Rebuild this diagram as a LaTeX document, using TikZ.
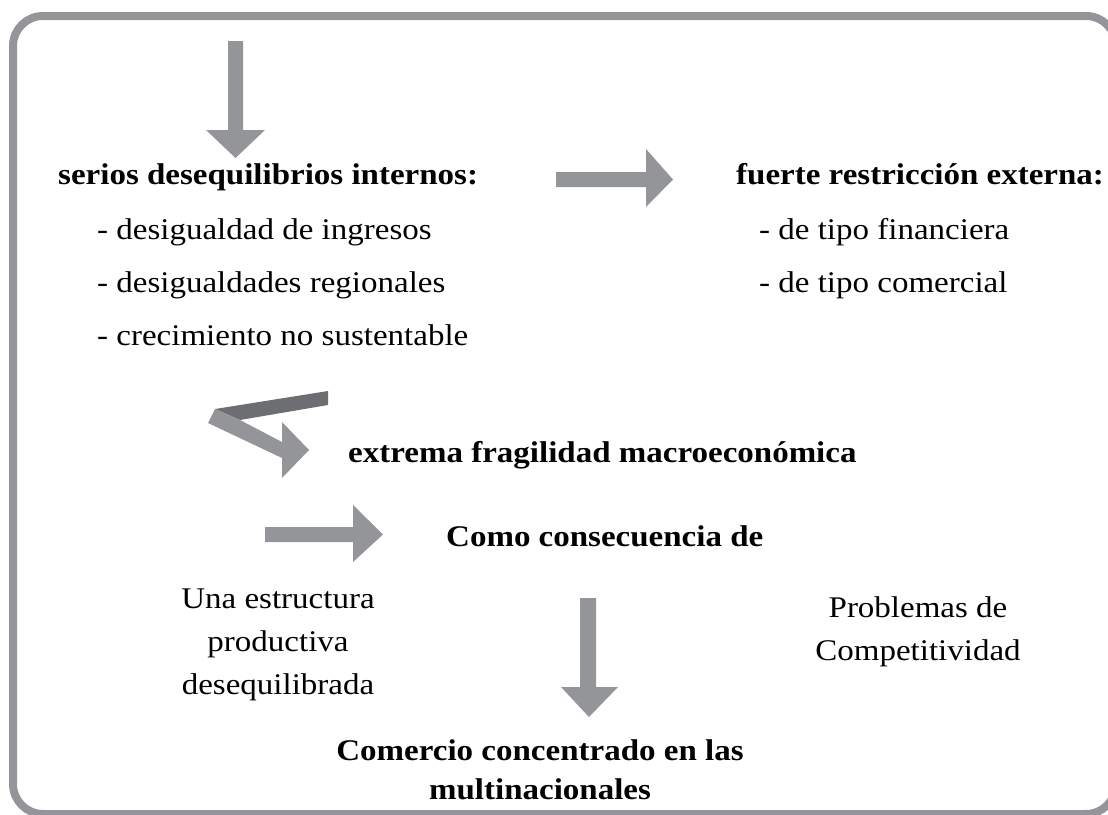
\documentclass[tikz,border=0pt]{standalone}
\usepackage{fontspec}
\setmainfont[FakeStretch=1.1]{Liberation Serif}
\usepackage{tikz}

\definecolor{grisflecha}{RGB}{147,149,152}
\definecolor{grisoscuro}{RGB}{109,110,113}

\begin{document}
\begin{tikzpicture}[x=1pt,y=-1pt,
	flecha/.style={fill=grisflecha,draw=none},
	titulo/.style={font=\bfseries\fontsize{30}{36}\selectfont,inner sep=0pt,anchor=base west},
	item/.style={font=\fontsize{30}{36}\selectfont,inner sep=0pt,anchor=base west},
	bloque/.style={font=\fontsize{30}{43}\selectfont,align=center,inner sep=0pt}]
	\useasboundingbox (0,0) rectangle (1108,814);
	\clip (0,0) rectangle (1108,814);

	% marco
	\draw[grisflecha,line width=8pt,rounded corners=30pt] (13,16) rectangle (1116,814);

	% textos
	\node[titulo] (internos) at (58,184) {serios desequilibrios internos:};
	\node[item] (ingresos) at (97,239) {- desigualdad de ingresos};
	\node[item] (regionales) at (97,292) {- desigualdades regionales};
	\node[item] (crecimiento) at (97,345) {- crecimiento no sustentable};

	\node[titulo] (externa) at (736,184) {fuerte restricción externa:};
	\node[item] (financiera) at (759,239) {- de tipo financiera};
	\node[item] (comercial) at (759,292) {- de tipo comercial};

	\node[titulo] (fragilidad) at (348,462) {extrema fragilidad macroeconómica};
	\node[titulo] (consecuencia) at (446,546) {Como consecuencia de};

	\node[bloque] (estructura) at (278,645) {Una estructura\\productiva\\desequilibrada};
	\node[bloque] (competitividad) at (918,632) {Problemas de\\Competitividad};
	\node[bloque,font=\bfseries\fontsize{30}{39}\selectfont] (comercio) at (540,770)
		{Comercio concentrado en las\\multinacionales};

	% flechas
	\fill[flecha] (228,41) -- (243,41) -- (243,130) -- (265,130) -- (235.5,158)
		-- (206,130) -- (228,130) -- cycle;
	\fill[flecha] (556,172) -- (646,172) -- (646,149) -- (673,179.5) -- (646,207)
		-- (646,187) -- (556,187) -- cycle;
	\fill[grisoscuro] (215,409) -- (328,391) -- (328,405) -- (240,420) -- cycle;
	\fill[flecha] (215,409) -- (240,420) -- (282,442) -- (282,422) -- (309,450)
		-- (282,478) -- (282,458) -- (208,423) -- cycle;
	\fill[flecha] (265,527) -- (353,527) -- (353,505) -- (383,534.5) -- (353,562)
		-- (353,542) -- (265,542) -- cycle;
	\fill[flecha] (580,598) -- (596,598) -- (596,687) -- (618,687) -- (589,717)
		-- (561,687) -- (580,687) -- cycle;
\end{tikzpicture}
\end{document}
